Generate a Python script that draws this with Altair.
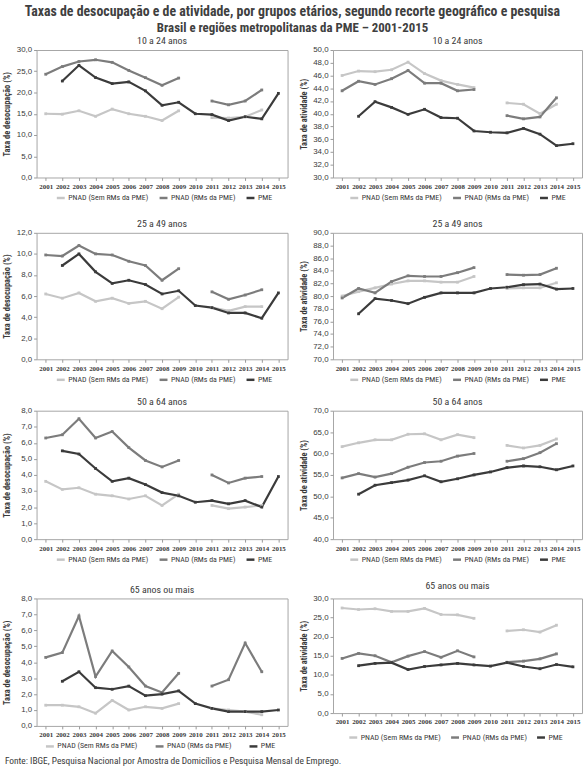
import altair as alt
import pandas as pd

years = list(range(2001, 2016))
series_names = ["PNAD (Sem RMs da PME)", "PNAD (RMs da PME)", "PME"]
series_colors = ["#c6c6c6", "#7c7c7c", "#3b3b3b"]

N = None
# 10 a 24 anos - desocupação
d1_sem = [15.0, 14.9, 15.7, 14.4, 16.1, 15.0, 14.4, 13.4, 15.7, N, 14.1, 14.0, 14.3, 15.9, N]
d1_rms = [24.3, 26.1, 27.3, 27.7, 27.1, 25.2, 23.5, 21.7, 23.4, N, 18.0, 17.1, 18.0, 20.6, N]
d1_pme = [N, 22.7, 26.4, 23.5, 22.1, 22.5, 20.4, 17.0, 17.7, 15.0, 14.8, 13.4, 14.3, 13.8, 19.8]
# 10 a 24 anos - atividade
a1_sem = [46.0, 46.7, 46.6, 46.9, 48.1, 46.3, 45.2, 44.6, 44.1, N, 41.7, 41.5, 40.0, 41.5, N]
a1_rms = [43.6, 45.1, 44.6, 45.5, 46.8, 44.8, 44.8, 43.6, 43.8, N, 39.7, 39.2, 39.5, 42.5, N]
a1_pme = [N, 39.6, 41.9, 41.0, 39.9, 40.7, 39.4, 39.3, 37.3, 37.1, 37.0, 37.7, 36.8, 35.0, 35.3]
# 25 a 49 anos - desocupação
d2_sem = [6.2, 5.8, 6.3, 5.5, 5.8, 5.3, 5.5, 4.8, 5.9, N, 4.9, 4.6, 5.0, 5.0, N]
d2_rms = [9.9, 9.8, 10.8, 10.0, 9.9, 9.3, 8.9, 7.5, 8.6, N, 6.4, 5.7, 6.1, 6.6, N]
d2_pme = [N, 8.9, 10.0, 8.3, 7.2, 7.5, 7.1, 6.2, 6.5, 5.1, 4.9, 4.4, 4.4, 3.9, 6.3]
# 25 a 49 anos - atividade
a2_sem = [80.0, 80.7, 81.3, 81.9, 82.4, 82.4, 82.2, 82.2, 83.1, N, 81.2, 81.3, 81.3, 82.1, N]
a2_rms = [79.7, 81.2, 80.5, 82.3, 83.2, 83.1, 83.1, 83.7, 84.5, N, 83.4, 83.3, 83.4, 84.4, N]
a2_pme = [N, 77.2, 79.6, 79.3, 78.8, 79.8, 80.5, 80.5, 80.5, 81.2, 81.4, 81.8, 81.9, 81.1, 81.2]
# 50 a 64 anos - desocupação
d3_sem = [3.6, 3.1, 3.2, 2.8, 2.7, 2.5, 2.7, 2.1, 2.8, N, 2.1, 1.9, 2.0, 2.1, N]
d3_rms = [6.3, 6.5, 7.5, 6.3, 6.7, 5.7, 4.9, 4.5, 4.9, N, 4.0, 3.5, 3.8, 3.9, N]
d3_pme = [N, 5.5, 5.3, 4.4, 3.6, 3.8, 3.4, 2.9, 2.7, 2.3, 2.4, 2.2, 2.4, 2.0, 3.9]
# 50 a 64 anos - atividade
a3_sem = [61.6, 62.5, 63.2, 63.2, 64.5, 64.6, 63.2, 64.4, 63.7, N, 61.9, 61.3, 61.9, 63.4, N]
a3_rms = [54.3, 55.3, 54.5, 55.3, 56.8, 57.9, 58.2, 59.4, 60.0, N, 58.2, 58.8, 60.2, 62.3, N]
a3_pme = [N, 50.5, 52.6, 53.2, 53.8, 54.8, 53.4, 54.1, 55.0, 55.7, 56.7, 57.1, 56.9, 56.2, 57.1]
# 65 anos ou mais - desocupação
d4_sem = [1.3, 1.3, 1.2, 0.8, 1.6, 1.0, 1.2, 1.1, 1.4, N, 1.1, 1.0, 0.9, 0.7, N]
d4_rms = [4.3, 4.6, 6.9, 3.1, 4.7, 3.7, 2.5, 2.1, 3.3, N, 2.5, 2.9, 5.2, 3.4, N]
d4_pme = [N, 2.8, 3.4, 2.4, 2.3, 2.5, 1.9, 2.0, 2.2, 1.4, 1.1, 0.9, 0.9, 0.9, 1.0]
# 65 anos ou mais - atividade
a4_sem = [27.5, 27.1, 27.3, 26.6, 26.6, 27.4, 25.8, 25.7, 24.8, N, 21.5, 21.8, 21.2, 23.0, N]
a4_rms = [14.3, 15.6, 15.0, 13.3, 14.9, 16.1, 14.6, 16.3, 14.7, N, 13.3, 13.6, 14.2, 15.5, N]
a4_pme = [N, 12.4, 13.0, 13.2, 11.4, 12.2, 12.6, 13.0, 12.6, 12.3, 13.2, 12.2, 11.6, 12.7, 12.1]

titles = ["10 a 24 anos", "25 a 49 anos", "50 a 64 anos", "65 anos ou mais"]
ytitle_d = "Taxa de desocupação (%)"
ytitle_a = "Taxa de atividade (%)"
source = "Fonte: IBGE, Pesquisa Nacional por Amostra de Domicílios e Pesquisa Mensal de Emprego."
title_line1 = "Taxas de desocupação e de atividade, por grupos etários, segundo recorte geográfico e pesquisa"
title_line2 = "Brasil e regiões metropolitanas da PME – 2001-2015"

FONT = "Liberation Sans Narrow, Roboto Condensed, Open Sans, sans-serif"
TXT = "#3a3a3a"


def make_df(sem, rms, pme):
    rows = []
    for name, vals in zip(series_names, [sem, rms, pme]):
        for y, v in zip(years, vals):
            if v is None:
                continue
            seg = name + ("_a" if y < 2010 else "_b") if name != "PME" else name
            rows.append({"year": y, "value": v, "series": name, "segment": seg})
    return pd.DataFrame(rows)


def panel(sem, rms, pme, title, ytitle, dom, step, w, h, title_offset=0, leg_dy=15, leg_x=19, leg_pad=5):
    df = make_df(sem, rms, pme)
    ticks = []
    v = dom[0]
    while v <= dom[1] + 1e-9:
        ticks.append(round(v, 4))
        v += step
    return alt.Chart(df).mark_line(
        strokeWidth=2.2,
        point=alt.OverlayMarkDef(shape="square", size=8, filled=True),
    ).encode(
        x=alt.X("year:O", scale=alt.Scale(type="point", domain=years, padding=0.55),
                axis=alt.Axis(title=None, labelAngle=0, labelFont="Liberation Serif",
                              labelFontSize=7, labelFontWeight="bold", tickSize=3,
                              labelPadding=2)),
        y=alt.Y("value:Q", scale=alt.Scale(domain=dom, nice=False, zero=False),
                axis=alt.Axis(title=ytitle, values=ticks,
                              labelExpr="replace(format(datum.value, '.1f'), '.', ',')",
                              minExtent=21, maxExtent=21, titlePadding=4,
                              titleFontSize=8.5, titleFontWeight="bold", titleFont=FONT,
                              labelFontSize=8, labelFont="Liberation Sans", tickSize=3)),
        color=alt.Color("series:N", scale=alt.Scale(domain=series_names, range=series_colors),
                        legend=alt.Legend(title=None, orient="none", direction="horizontal",
                                          legendX=leg_x, legendY=h + leg_dy,
                                          symbolType="stroke", symbolStrokeWidth=2.5,
                                          symbolSize=64, labelFontSize=8, labelFont=FONT,
                                          labelColor=TXT, columnPadding=leg_pad, labelOffset=2,
                                          padding=0)),
        detail="segment:N",
        order="year:O",
    ).properties(
        width=w, height=h,
        title=alt.TitleParams(title, fontSize=10, fontWeight="normal", font=FONT,
                              color=TXT, offset=title_offset),
    )


rows = [
    (panel(d1_sem, d1_rms, d1_pme, titles[0], ytitle_d, [0, 30], 5, 254, 129),
     panel(a1_sem, a1_rms, a1_pme, titles[0], ytitle_a, [30, 50], 2, 252, 129, leg_x=16)),
    (panel(d2_sem, d2_rms, d2_pme, titles[1], ytitle_d, [0, 12], 2, 254, 128),
     panel(a2_sem, a2_rms, a2_pme, titles[1], ytitle_a, [70, 90], 2, 252, 128, leg_x=16)),
    (panel(d3_sem, d3_rms, d3_pme, titles[2], ytitle_d, [0, 8], 1, 254, 130),
     panel(a3_sem, a3_rms, a3_pme, titles[2], ytitle_a, [40, 70], 5, 252, 130, leg_x=16)),
    (panel(d4_sem, d4_rms, d4_pme, titles[3], ytitle_d, [0, 8], 1, 254, 129, leg_x=8, leg_pad=12),
     panel(a4_sem, a4_rms, a4_pme, titles[3], ytitle_a, [0, 30], 5, 252, 116, title_offset=4,
           leg_x=15, leg_dy=19, leg_pad=4)),
]

hrows = [alt.hconcat(l, r, spacing=10).resolve_scale(color="independent") for l, r in rows]
top_half = alt.vconcat(hrows[0], hrows[1], spacing=14).resolve_scale(color="independent")
bottom_half = alt.vconcat(hrows[2], hrows[3], spacing=14).resolve_scale(color="independent")
grid = alt.vconcat(top_half, bottom_half, spacing=10).resolve_scale(color="independent")

footer = alt.Chart(pd.DataFrame({"t": [source]})).mark_text(
    align="left", baseline="top", fontSize=9.5, font=FONT, color=TXT
).encode(text="t:N", x=alt.value(-32), y=alt.value(0)).properties(
    width=400, height=8, view=alt.ViewBackground(stroke="transparent"))

chart = alt.vconcat(grid, footer, spacing=3).resolve_scale(color="independent").properties(
    title=alt.TitleParams(title_line1, subtitle=title_line2, fontSize=14, fontWeight="bold",
                          font=FONT, color="#404040", anchor="middle", offset=1,
                          subtitleFont=FONT, subtitleFontSize=13, subtitleFontWeight="bold",
                          subtitleColor="#404040", subtitlePadding=3),
    padding={"left": 2, "right": 1, "top": 0, "bottom": 0},
).configure_view(stroke="#a6a6a6", strokeWidth=1).configure_axis(
    domain=False, grid=False, tickColor="#999999", labelColor=TXT, titleColor=TXT
)

chart.save("out.html", embed_options={"renderer": "svg", "actions": False})
